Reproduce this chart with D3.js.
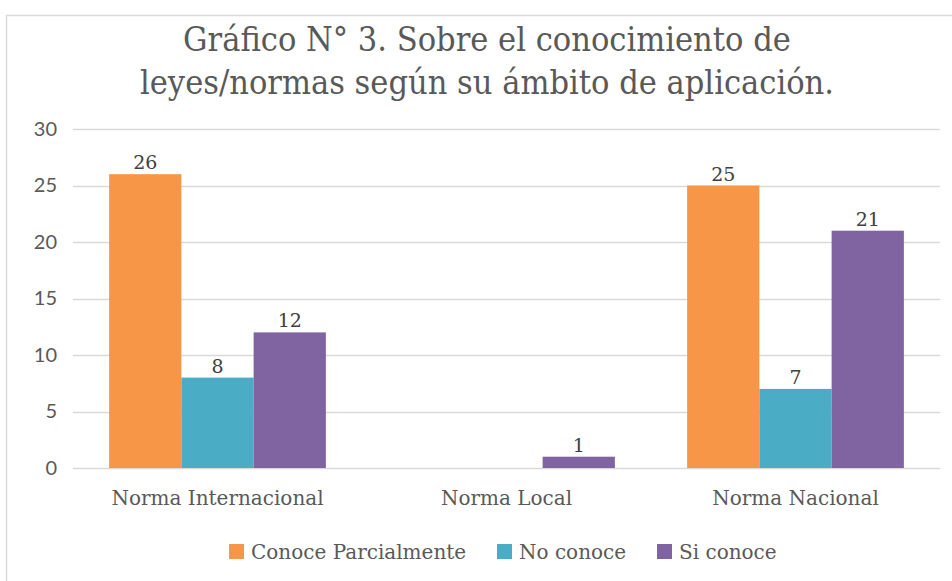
<!DOCTYPE html>
<html>
<head>
<meta charset="utf-8">
<script src="https://cdn.jsdelivr.net/npm/d3@7"></script>
<style>
  body { margin: 0; background: #fff; }
  svg { display: block; }
</style>
</head>
<body>
<div id="chart"></div>
<script>
// data
var categories = ["Norma Internacional", "Norma Local", "Norma Nacional"];
var seriesNames = ["Conoce Parcialmente", "No conoce", "Si conoce"];
var conoceParcialmente = [26, null, 25];
var noConoce = [8, null, 7];
var siConoce = [12, 1, 21];
var yTicks = [0, 5, 10, 15, 20, 25, 30];
var colors = ["#F79646", "#4BACC6", "#8064A2"];
var titleLines = ["Gráfico N° 3. Sobre el conocimiento de", "leyes/normas según su ámbito de aplicación."];

var width = 952, height = 581;
var margin = {left: 73, right: 12, top: 129, bottom: 113};
var serif = "'DejaVu Serif', serif";

var svg = d3.select("#chart").append("svg")
  .attr("width", width)
  .attr("height", height);

// chart area border
svg.append("rect")
  .attr("x", 6.5).attr("y", 15.5)
  .attr("width", width + 10).attr("height", height + 10)
  .attr("fill", "none")
  .attr("stroke", "#d9d9d9")
  .attr("stroke-width", 1.5);

var x0 = d3.scaleBand()
  .domain(categories)
  .range([margin.left, width - margin.right])
  .paddingInner(0.25).paddingOuter(0.125);

var x1 = d3.scaleBand()
  .domain(seriesNames)
  .range([0, x0.bandwidth()]);

var y = d3.scaleLinear()
  .domain([0, 30])
  .range([height - margin.bottom, margin.top]);

// gridlines
svg.append("g")
  .selectAll("line")
  .data(yTicks)
  .enter().append("line")
  .attr("x1", margin.left)
  .attr("x2", width - margin.right)
  .attr("y1", function(d){ return Math.round(y(d)) + 0.5; })
  .attr("y2", function(d){ return Math.round(y(d)) + 0.5; })
  .attr("stroke", "#d9d9d9")
  .attr("stroke-width", 1.3);

// y axis labels
var yAxis = d3.axisLeft(y).tickValues(yTicks).tickSize(0).tickPadding(0);
var yg = svg.append("g")
  .attr("transform", "translate(" + 57 + ",0)")
  .call(yAxis);
yg.select(".domain").remove();
yg.selectAll("text")
  .attr("fill", "#595959")
  .style("font-family", "Lato, 'Open Sans', sans-serif")
  .style("font-size", "20px");

// bars
var seriesData = [conoceParcialmente, noConoce, siConoce];
var rows = [];
categories.forEach(function(c, i){
  seriesNames.forEach(function(s, j){
    rows.push({cat: c, series: s, value: seriesData[j][i], color: colors[j]});
  });
});

var bars = svg.append("g").selectAll("g")
  .data(rows.filter(function(d){ return d.value !== null; }))
  .enter().append("g");

bars.append("rect")
  .attr("x", function(d){ return x0(d.cat) + x1(d.series); })
  .attr("y", function(d){ return y(d.value); })
  .attr("width", x1.bandwidth())
  .attr("height", function(d){ return y(0) - y(d.value); })
  .attr("fill", function(d){ return d.color; });

bars.append("text")
  .attr("x", function(d){ return x0(d.cat) + x1(d.series) + x1.bandwidth() / 2; })
  .attr("y", function(d){ return y(d.value) - 5; })
  .attr("text-anchor", "middle")
  .attr("fill", "#404040")
  .style("font-family", serif)
  .style("font-size", "19px")
  .text(function(d){ return d.value; });

// x axis labels
var xAxis = d3.axisBottom(x0).tickSize(0).tickPadding(0);
var xg = svg.append("g")
  .attr("transform", "translate(0," + y(0) + ")")
  .call(xAxis);
xg.select(".domain").remove();
xg.selectAll("text")
  .attr("y", 37)
  .attr("dy", null)
  .attr("fill", "#595959")
  .style("font-family", serif)
  .style("font-size", "20px");

// title
svg.append("text")
  .attr("x", 487)
  .attr("y", 51)
  .attr("text-anchor", "middle")
  .attr("fill", "#595959")
  .style("font-family", serif)
  .style("font-stretch", "condensed")
  .style("font-size", "34px")
  .selectAll("tspan")
  .data(titleLines)
  .enter().append("tspan")
  .attr("x", 487)
  .attr("dy", function(d, i){ return i === 0 ? 0 : 43; })
  .text(function(d){ return d; });

// legend
var legendX = [229, 497, 657];
var legend = svg.append("g").selectAll("g")
  .data(seriesNames)
  .enter().append("g")
  .attr("transform", function(d, i){ return "translate(" + legendX[i] + ",544)"; });

legend.append("rect")
  .attr("width", 15).attr("height", 15)
  .attr("fill", function(d, i){ return colors[i]; });

legend.append("text")
  .attr("x", 22)
  .attr("y", 15)
  .attr("fill", "#595959")
  .style("font-family", serif)
  .style("font-size", "20px")
  .text(function(d){ return d; });
</script>
</body>
</html>
